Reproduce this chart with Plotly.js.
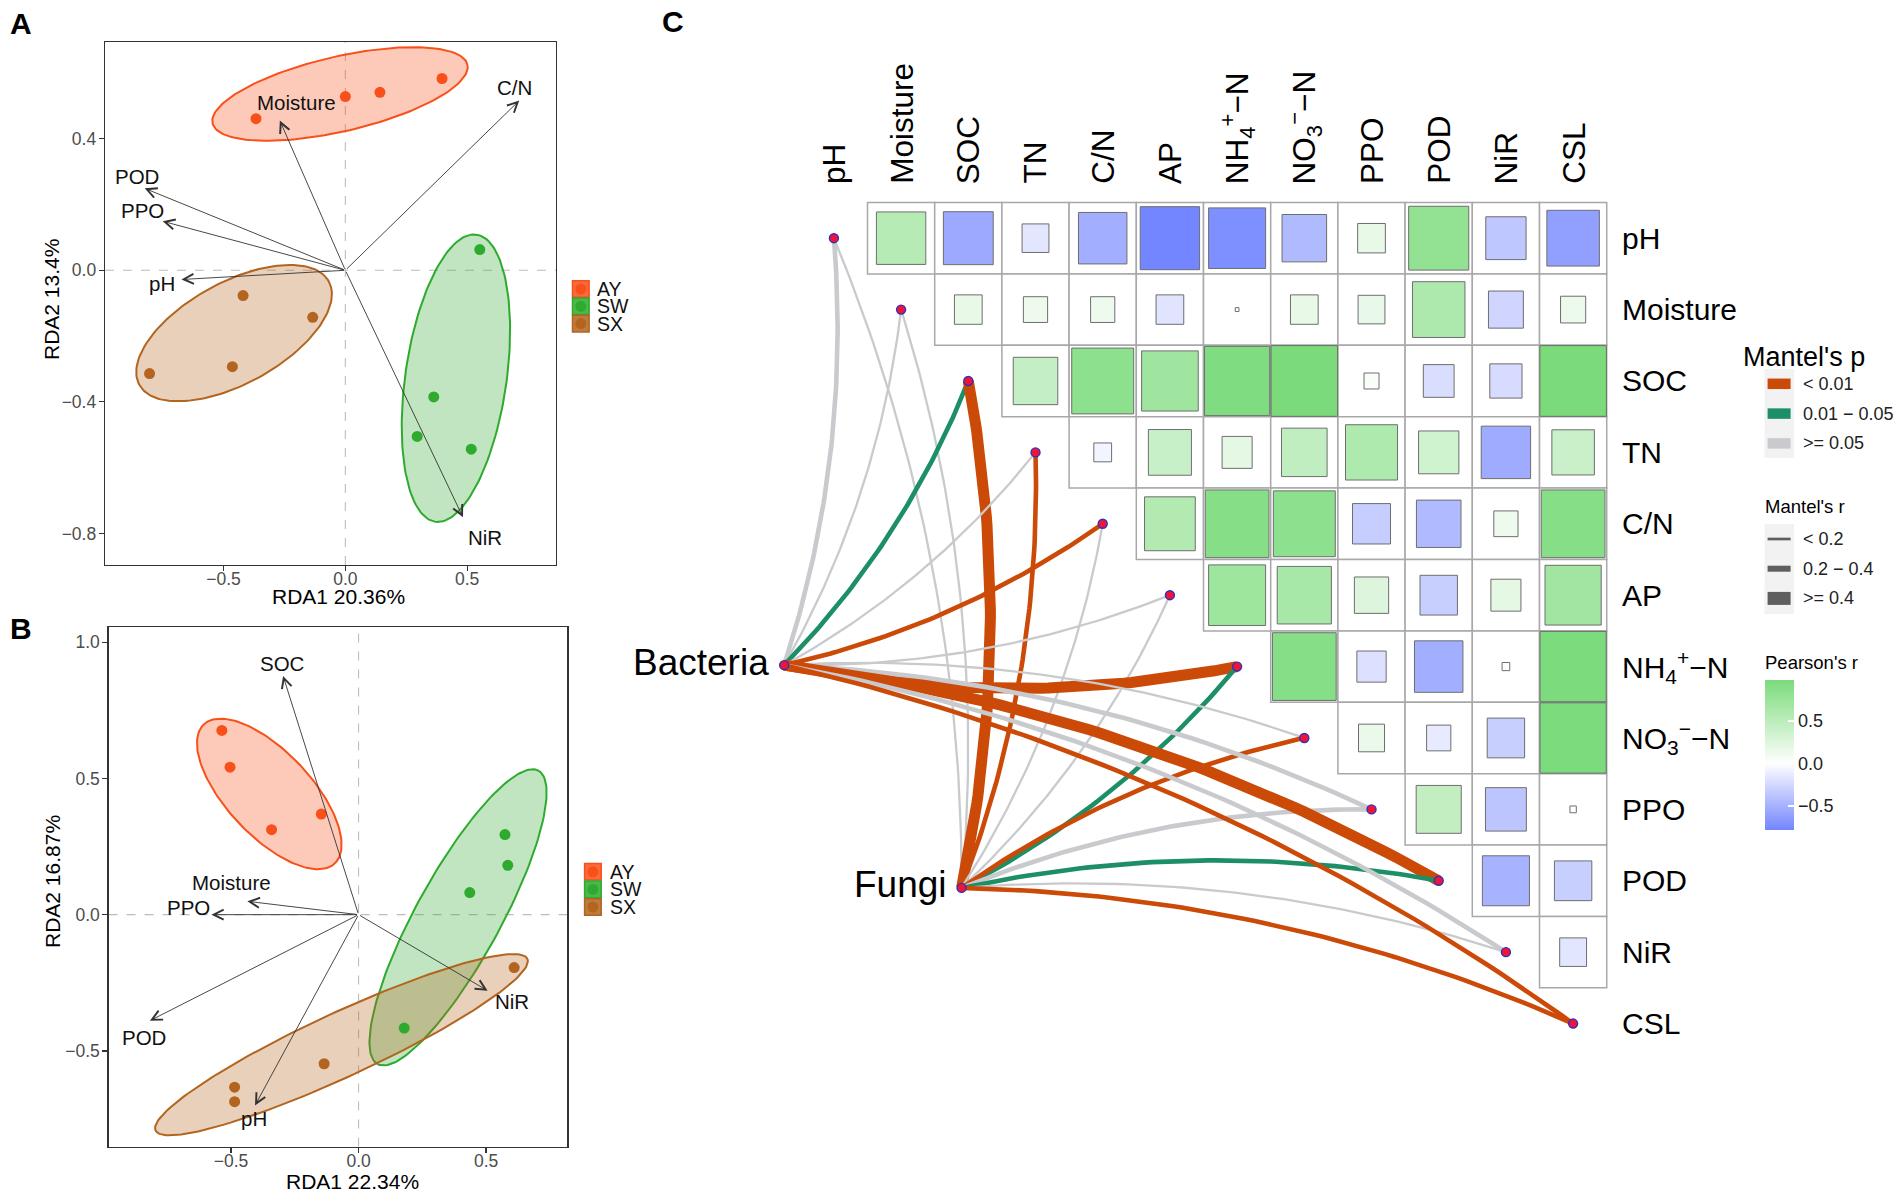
<!DOCTYPE html>
<html><head><meta charset="utf-8">
<script src="https://cdn.plot.ly/plotly-3.0.1.min.js"></script>
<style>html,body{margin:0;padding:0;background:#fff}</style>
</head><body>
<div id="chart" style="width:1902px;height:1196px"></div>
<script>
// ================= DATA =================
const groups = ["AY", "SW", "SX"];
const groupColors = ["#F9501A", "#2EAA2E", "#B3641E"];

// ---- Panel A (bacteria RDA) ----
const aAY_x = [-0.367, 0.000, 0.142, 0.397];
const aAY_y = [0.461, 0.528, 0.541, 0.583];
const aSW_x = [0.552, 0.363, 0.295, 0.517];
const aSW_y = [0.063, -0.385, -0.505, -0.544];
const aSX_x = [-0.420, -0.134, -0.464, -0.804];
const aSX_y = [-0.077, -0.143, -0.293, -0.314];
const aEnvNames = ["Moisture", "C/N", "POD", "PPO", "pH", "NiR"];
const aEnvX = [-0.269, 0.714, -0.824, -0.750, -0.673, 0.483];
const aEnvY = [0.455, 0.516, 0.249, 0.149, -0.028, -0.751];
const aLabX = [-0.202, 0.694, -0.857, -0.835, -0.752, 0.572];
const aLabY = [0.509, 0.556, 0.284, 0.181, -0.040, -0.813];
const aEllCx = [-0.022, 0.454, -0.457];
const aEllCy = [0.536, -0.328, -0.191];
const aEllA = [0.531, 0.445, 0.422];
const aEllB = [0.115, 0.206, 0.162];
const aEllAng = [9.3, 77.7, 19.4];
const aXTitle = "RDA1 20.36%", aYTitle = "RDA2 13.4%";

// ---- Panel B (fungi RDA) ----
const bAY_x = [-0.536, -0.504, -0.341, -0.146];
const bAY_y = [0.676, 0.541, 0.312, 0.369];
const bSW_x = [0.574, 0.585, 0.436, 0.179];
const bSW_y = [0.294, 0.181, 0.081, -0.416];
const bSX_x = [0.610, -0.135, -0.486, -0.486];
const bSX_y = [-0.194, -0.547, -0.633, -0.686];
const bEnvNames = ["SOC", "Moisture", "PPO", "POD", "pH", "NiR"];
const bEnvX = [-0.296, -0.436, -0.577, -0.818, -0.406, 0.506];
const bEnvY = [0.876, 0.049, 0.000, -0.389, -0.700, -0.279];
const bLabX = [-0.299, -0.499, -0.667, -0.840, -0.410, 0.603];
const bLabY = [0.920, 0.118, 0.025, -0.452, -0.749, -0.317];
const bEllCx = [-0.350, 0.390, -0.067];
const bEllCy = [0.443, -0.010, -0.477];
const bEllA = [0.362, 0.624, 0.794];
const bEllB = [0.160, 0.163, 0.119];
const bEllAng = [-43.9, 59.4, 23.3];
const bXTitle = "RDA1 22.34%", bYTitle = "RDA2 16.87%";

// ---- Panel C (Pearson correlations, upper triangle rows) ----
const envVars = ["pH", "Moisture", "SOC", "TN", "C/N", "AP", "NH4-N", "NO3-N", "PPO", "POD", "NiR", "CSL"];
const envLabels = ["pH", "Moisture", "SOC", "TN", "C/N", "AP",
  "NH<sub>4</sub><sup>+</sup>−N", "NO<sub>3</sub><sup>−</sup>−N", "PPO", "POD", "NiR", "CSL"];
const corr_pH       = [0.54, -0.55, -0.16, -0.52, -0.78, -0.72, -0.44, 0.17, 0.80, -0.36, -0.61];
const corr_Moisture = [0.17, 0.13, 0.13, -0.17, 0.003, 0.17, 0.16, 0.61, -0.27, 0.14];
const corr_SOC      = [0.44, 0.85, 0.71, 0.94, 0.98, 0.05, -0.21, -0.23, 0.98];
const corr_TN       = [-0.07, 0.41, 0.20, 0.46, 0.60, 0.36, -0.54, 0.40];
const corr_CN       = [0.57, 0.90, 0.85, -0.32, -0.44, 0.13, 0.90];
const corr_AP       = [0.72, 0.65, 0.26, -0.31, 0.20, 0.70];
const corr_NH4      = [0.90, -0.19, -0.52, 0.013, 0.97];
const corr_NO3      = [0.15, -0.13, -0.31, 0.97];
const corr_PPO      = [0.45, -0.37, 0.009];
const corr_POD      = [-0.49, -0.31];
const corr_NiR      = [-0.16];
const corr_CSL      = [];

// ---- Mantel tests ----
const species = ["Bacteria", "Fungi"];
const speciesX = [-0.74, 1.90];
const speciesY = [5.98, 9.10];
const mantelR_Bacteria = [0.25, 0.12, 0.28, 0.10, 0.30, 0.08, 0.52, 0.10, 0.22, 0.55, 0.21, 0.33];
const mantelP_Bacteria = [0.08, 0.20, 0.03, 0.25, 0.005, 0.30, 0.001, 0.20, 0.07, 0.001, 0.09, 0.004];
const mantelR_Fungi    = [0.05, 0.09, 0.50, 0.32, 0.10, 0.07, 0.26, 0.31, 0.23, 0.27, 0.12, 0.35];
const mantelP_Fungi    = [0.50, 0.30, 0.001, 0.006, 0.20, 0.40, 0.02, 0.008, 0.06, 0.03, 0.15, 0.002];
const pLabels = ["< 0.01", "0.01 − 0.05", ">= 0.05"];
const pColors = ["#CC4A08", "#1D8F66", "#C9CACD"];
const rLabels = ["< 0.2", "0.2 − 0.4", ">= 0.4"];
const rWidths = [2.3, 4.6, 11];

// ================= HELPERS =================
const W = 1902, H = 1196;
const PX = v => v / W;
const PY = v => 1 - v / H;
const FONT = "Liberation Sans, Arial, Helvetica, sans-serif";

function rgba(hex, a) {
  const n = parseInt(hex.slice(1), 16);
  return `rgba(${(n >> 16) & 255},${(n >> 8) & 255},${n & 255},${a})`;
}
function ellipse(cx, cy, a, b, angDeg) {
  const th = angDeg * Math.PI / 180, xs = [], ys = [];
  for (let k = 0; k <= 160; k++) {
    const t = 2 * Math.PI * k / 160;
    xs.push(cx + a * Math.cos(t) * Math.cos(th) - b * Math.sin(t) * Math.sin(th));
    ys.push(cy + a * Math.cos(t) * Math.sin(th) + b * Math.sin(t) * Math.cos(th));
  }
  return [xs, ys];
}

const traces = [];
const shapes = [];
const ann = [];
function paperText(x, y, text, size, opts) {
  ann.push(Object.assign({ xref: "paper", yref: "paper", x: PX(x), y: PY(y), xanchor: "center", yanchor: "middle",
    text: text, showarrow: false, font: { size: size, family: FONT, color: "#000" } }, opts || {}));
}

// ================= PANELS A & B =================
function biplot(xa, ya, ptsX, ptsY, ellCx, ellCy, ellA, ellB, ellAng, envNames, envX, envY, labX, labY) {
  groups.forEach((g, k) => {
    const [ex, ey] = ellipse(ellCx[k], ellCy[k], ellA[k], ellB[k], ellAng[k]);
    traces.push({ type: "scatter", x: ex, y: ey, xaxis: xa, yaxis: ya, mode: "lines", fill: "toself",
      fillcolor: rgba(groupColors[k], 0.3), line: { color: groupColors[k], width: 2 }, hoverinfo: "skip", showlegend: false });
  });
  groups.forEach((g, k) => {
    traces.push({ type: "scatter", x: ptsX[k], y: ptsY[k], xaxis: xa, yaxis: ya, mode: "markers", name: g,
      marker: { size: 11, color: groupColors[k] }, showlegend: false });
  });
  envNames.forEach((nm, k) => {
    ann.push({ xref: xa, yref: ya, axref: xa, ayref: ya, x: envX[k], y: envY[k], ax: 0, ay: 0,
      showarrow: true, arrowhead: 5, arrowsize: 2.2, arrowwidth: 0.9, arrowcolor: "#333333", text: "", standoff: 0, startstandoff: 0 });
    ann.push({ xref: xa, yref: ya, x: labX[k], y: labY[k], xanchor: "center", yanchor: "middle", text: nm, showarrow: false,
      font: { size: 20.5, color: "#111111", family: FONT } });
  });
  shapes.push({ type: "line", xref: xa, yref: ya + " domain", x0: 0, x1: 0, y0: 0, y1: 1, layer: "below",
    line: { color: "#BDBDBD", width: 1.1, dash: "dash" } });
  shapes.push({ type: "line", xref: xa + " domain", yref: ya, x0: 0, x1: 1, y0: 0, y1: 0, layer: "below",
    line: { color: "#BDBDBD", width: 1.1, dash: "dash" } });
}
biplot("x", "y", [aAY_x, aSW_x, aSX_x], [aAY_y, aSW_y, aSX_y], aEllCx, aEllCy, aEllA, aEllB, aEllAng,
  aEnvNames, aEnvX, aEnvY, aLabX, aLabY);
biplot("x2", "y2", [bAY_x, bSW_x, bSX_x], [bAY_y, bSW_y, bSX_y], bEllCx, bEllCy, bEllA, bEllB, bEllAng,
  bEnvNames, bEnvX, bEnvY, bLabX, bLabY);

// legends for A and B
function groupLegend(cx, cy0, step, textX) {
  groups.forEach((g, k) => {
    const cy = cy0 + step * k;
    shapes.push({ type: "rect", xref: "paper", yref: "paper", x0: PX(cx - 8.3), x1: PX(cx + 8.3), y0: PY(cy + 8.3), y1: PY(cy - 8.3),
      fillcolor: rgba(groupColors[k], 0.85), line: { color: groupColors[k], width: 1.5 } });
    shapes.push({ type: "circle", xref: "paper", yref: "paper", x0: PX(cx - 5.5), x1: PX(cx + 5.5), y0: PY(cy + 5.5), y1: PY(cy - 5.5),
      fillcolor: groupColors[k], line: { width: 0 } });
    paperText(textX, cy, g, 19.5, { xanchor: "left", font: { size: 19.5, color: "#111", family: FONT } });
  });
}
groupLegend(580.8, 289, 17.3, 594.5);
groupLegend(592.9, 871.8, 17.6, 608);

// axis titles and panel tags
paperText(338, 597, aXTitle, 21);
paperText(51, 300, aYTitle, 21, { textangle: -90 });
paperText(352, 1181, bXTitle, 21);
paperText(52, 882, bYTitle, 21, { textangle: -90 });
paperText(21, 23, "<b>A</b>", 30);
paperText(21, 628, "<b>B</b>", 30);
paperText(673, 22, "<b>C</b>", 30);

// ================= PANEL C =================
const corrRows = [corr_pH, corr_Moisture, corr_SOC, corr_TN, corr_CN, corr_AP, corr_NH4, corr_NO3, corr_PPO, corr_POD, corr_NiR, corr_CSL];
const n = envVars.length;
const allR = corrRows.flat();
const cmin = Math.min(...allR), cmax = Math.max(...allR);
const maxAbs = Math.max(Math.abs(cmin), Math.abs(cmax));
const lowCol = [79, 102, 255], highCol = [123, 219, 123];
function fillColor(r) {
  const t = Math.min(1, Math.abs(r) / maxAbs);
  const c = r < 0 ? lowCol : highCol;
  return "rgb(" + c.map(v => Math.round(255 + (v - 255) * t)).join(",") + ")";
}

// axis 3 geometry (cells: 1 unit = one column / one row)
const x3Dom = [PX(620), 1], x3Range = [-3.183, 15.894];
const y3Dom = [0, 1], y3Range = [13.415, -3.336];
const kx = (x3Dom[1] - x3Dom[0]) * W / (x3Range[1] - x3Range[0]);
const ky = (y3Dom[1] - y3Dom[0]) * H / (y3Range[0] - y3Range[1]);

const cellX = [], cellY = [], cellR = [];
corrRows.forEach((row, i) => {
  row.forEach((r, k) => {
    const j = i + 1 + k;
    cellX.push(j); cellY.push(i); cellR.push(r);
    shapes.push({ type: "rect", xref: "x3", yref: "y3", x0: j - 0.5, x1: j + 0.5, y0: i - 0.5, y1: i + 0.5, layer: "below",
      fillcolor: "#FFFFFF", line: { color: "#A8A8A8", width: 1.5 } });
  });
});
cellR.forEach((r, k) => {
  const h = 0.5 * Math.sqrt(Math.abs(r));
  shapes.push({ type: "rect", xref: "x3", yref: "y3", x0: cellX[k] - h, x1: cellX[k] + h, y0: cellY[k] - h, y1: cellY[k] + h, layer: "below",
    fillcolor: fillColor(r), line: { color: "#6E6E6E", width: 1 } });
});

// colorbar carrier
const cscale = [];
for (let k = 0; k <= 40; k++) { const v = cmin + (cmax - cmin) * k / 40; cscale.push([k / 40, fillColor(v)]); }
traces.push({ type: "scatter", x: cellX, y: cellY, xaxis: "x3", yaxis: "y3", mode: "markers", hoverinfo: "skip", showlegend: false,
  marker: { size: 1, opacity: 0, color: cellR, cmin: cmin, cmax: cmax, colorscale: cscale, showscale: true,
    colorbar: { x: PX(1765), xanchor: "left", y: PY(680), yanchor: "top", len: 150, lenmode: "pixels", thickness: 29,
      thicknessmode: "pixels", outlinewidth: 0, xpad: 0, ypad: 0, tickvals: [-0.5, 0, 0.5], ticktext: ["−0.5", "0.0", "0.5"],
      ticks: "inside", ticklen: 6, tickcolor: "#FFFFFF", tickwidth: 1.5, tickfont: { size: 18, color: "#222", family: FONT } } } });

// Mantel links
const pCat = p => p < 0.01 ? 0 : (p < 0.05 ? 1 : 2);
const rCat = r => r < 0.2 ? 0 : (r < 0.4 ? 1 : 2);
const mR = [mantelR_Bacteria, mantelR_Fungi], mP = [mantelP_Bacteria, mantelP_Fungi];
const curvature = 0.1;
function curve(x0, y0, x1, y1, sign) {
  const X0 = x0 * kx, Y0 = y0 * ky, X1 = x1 * kx, Y1 = y1 * ky;
  const dx = X1 - X0, dy = Y1 - Y0, L = Math.hypot(dx, dy);
  const nx = -dy / L, ny = dx / L;
  const CX = (X0 + X1) / 2 + nx * sign * curvature * L, CY = (Y0 + Y1) / 2 + ny * sign * curvature * L;
  const xs = [], ys = [];
  for (let k = 0; k <= 60; k++) {
    const t = k / 60, u = 1 - t;
    xs.push((u * u * X0 + 2 * u * t * CX + t * t * X1) / kx);
    ys.push((u * u * Y0 + 2 * u * t * CY + t * t * Y1) / ky);
  }
  return [xs, ys];
}
envVars.forEach((e, i) => {
  species.forEach((s, si) => {
    const sign = i <= n / 2 ? 1 : -1;
    const [xs, ys] = curve(speciesX[si], speciesY[si], i, i, sign);
    traces.push({ type: "scatter", x: xs, y: ys, xaxis: "x3", yaxis: "y3", mode: "lines", hoverinfo: "skip", showlegend: false,
      line: { color: pColors[pCat(mP[si][i])], width: rWidths[rCat(mR[si][i])] } });
  });
});
// nodes
traces.push({ type: "scatter", x: envVars.map((e, i) => i).concat(speciesX), y: envVars.map((e, i) => i).concat(speciesY),
  xaxis: "x3", yaxis: "y3", mode: "markers", hoverinfo: "skip", showlegend: false,
  marker: { size: 9, color: "#EE1538", line: { color: "#3030B8", width: 1.4 } } });

// labels
envLabels.forEach((lab, i) => {
  ann.push({ xref: "x3", yref: "y3", x: n - 0.5 + 0.2, y: i, xanchor: "left", yanchor: "middle", text: lab, showarrow: false,
    font: { size: 30, family: FONT, color: "#000" } });
  ann.push({ xref: "x3", yref: "y3", x: i, y: -0.5 - 0.23, xanchor: "center", yanchor: "bottom", textangle: -90, text: lab,
    showarrow: false, font: { size: 31.5, family: FONT, color: "#000" } });
});
species.forEach((s, si) => {
  ann.push({ xref: "x3", yref: "y3", x: speciesX[si], y: speciesY[si], xanchor: "right", yanchor: "middle", xshift: -13, yshift: 3,
    text: s, showarrow: false, font: { size: 37, family: FONT, color: "#000" } });
});

// Mantel legends
paperText(1741, 357, "Mantel's p", 27, { xanchor: "left" });
shapes.push({ type: "rect", xref: "paper", yref: "paper", x0: PX(1764.5), x1: PX(1794), y0: PY(458), y1: PY(369),
  fillcolor: "#F2F2F2", line: { width: 0 } });
pLabels.forEach((lab, k) => {
  const cy = 383.8 + 29.8 * k;
  shapes.push({ type: "line", xref: "paper", yref: "paper", x0: PX(1767.6), x1: PX(1790.6), y0: PY(cy), y1: PY(cy),
    line: { color: pColors[k], width: 10.5 } });
  paperText(1801, cy, lab, 18, { xanchor: "left", font: { size: 18, family: FONT, color: "#222" } });
});
paperText(1763, 506, "Mantel's r", 18.5, { xanchor: "left" });
shapes.push({ type: "rect", xref: "paper", yref: "paper", x0: PX(1764.5), x1: PX(1794), y0: PY(614), y1: PY(524),
  fillcolor: "#F2F2F2", line: { width: 0 } });
rLabels.forEach((lab, k) => {
  const cy = 539 + 29.7 * k;
  shapes.push({ type: "line", xref: "paper", yref: "paper", x0: PX(1767.6), x1: PX(1790.6), y0: PY(cy), y1: PY(cy),
    line: { color: "#5E5E5E", width: [2.7, 6, 13][k] } });
  paperText(1801, cy, lab, 18, { xanchor: "left", font: { size: 18, family: FONT, color: "#222" } });
});
paperText(1763, 662, "Pearson's r", 18.5, { xanchor: "left" });

// ================= LAYOUT =================
const axBase = { showgrid: false, zeroline: false, showline: true, mirror: true, linecolor: "#333333", linewidth: 1.3,
  ticks: "outside", ticklen: 5, tickwidth: 1.2, tickcolor: "#333333", tickformat: ".1f",
  tickfont: { size: 17.5, color: "#4D4D4D", family: FONT }, fixedrange: true };
const xBase = Object.assign({}, axBase, { ticklabelstandoff: -7 });
const yBase = Object.assign({}, axBase, { ticklabelstandoff: -1 });
const layout = {
  width: W, height: H, margin: { l: 0, r: 0, t: 0, b: 0 }, paper_bgcolor: "#FFFFFF", plot_bgcolor: "rgba(0,0,0,0)",
  showlegend: false, font: { family: FONT, color: "#000" },
  xaxis: Object.assign({}, xBase, { domain: [PX(105), PX(556)], range: [-0.987, 0.865], tickvals: [-0.5, 0, 0.5], anchor: "y" }),
  yaxis: Object.assign({}, yBase, { domain: [PY(565), PY(42)], range: [-0.896, 0.694], tickvals: [-0.8, -0.4, 0, 0.4], anchor: "x" }),
  xaxis2: Object.assign({}, xBase, { domain: [PX(108.6), PX(567.2)], range: [-0.980, 0.818], tickvals: [-0.5, 0, 0.5], anchor: "y2" }),
  yaxis2: Object.assign({}, yBase, { domain: [PY(1146.6), PY(627.4)], range: [-0.851, 1.054], tickvals: [-0.5, 0, 0.5, 1.0], anchor: "x2" }),
  xaxis3: { domain: x3Dom, range: x3Range, visible: false, anchor: "y3", fixedrange: true },
  yaxis3: { domain: y3Dom, range: y3Range, visible: false, anchor: "x3", fixedrange: true },
  shapes: shapes, annotations: ann
};
Plotly.newPlot("chart", traces, layout, { displayModeBar: false, staticPlot: true });
</script>
</body></html>
